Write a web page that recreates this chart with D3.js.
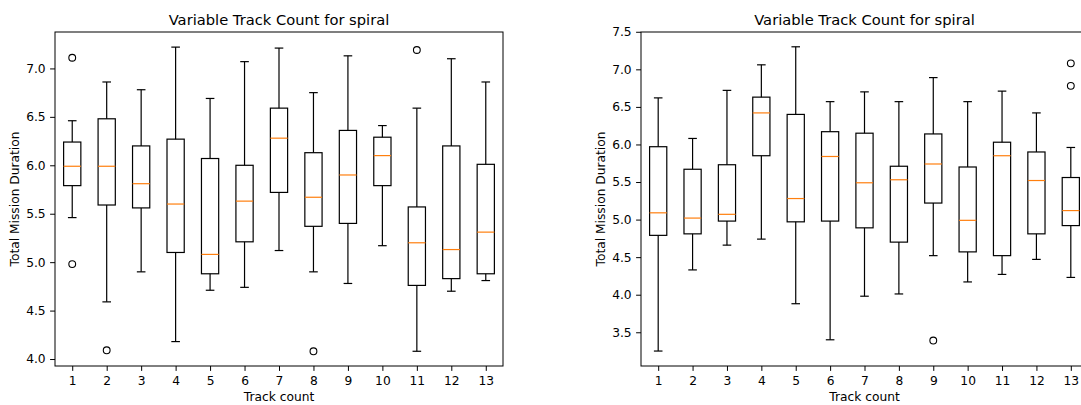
<!DOCTYPE html>
<html>
<head>
<meta charset="utf-8">
<script src="https://cdn.jsdelivr.net/npm/d3@7"></script>
<style>
	body { margin: 0; background: #fff; }
	text { font-family: "DejaVu Sans", sans-serif; fill: #000; }
</style>
</head>
<body>
<svg id="chart" width="1081" height="405"></svg>
<script>

var categories = [1, 2, 3, 4, 5, 6, 7, 8, 9, 10, 11, 12, 13];

// left panel
var leftLow = [5.46, 4.59, 4.90, 4.18, 4.71, 4.74, 5.12, 4.90, 4.78, 5.17, 4.08, 4.70, 4.81];
var leftQ1 = [5.79, 5.59, 5.56, 5.10, 4.88, 5.21, 5.72, 5.37, 5.40, 5.79, 4.76, 4.83, 4.88];
var leftMedian = [5.99, 5.99, 5.81, 5.60, 5.08, 5.63, 6.28, 5.67, 5.90, 6.10, 5.20, 5.13, 5.31];
var leftQ3 = [6.24, 6.48, 6.20, 6.27, 6.07, 6.00, 6.59, 6.13, 6.36, 6.29, 5.57, 6.20, 6.01];
var leftHigh = [6.46, 6.86, 6.78, 7.22, 6.69, 7.07, 7.21, 6.75, 7.13, 6.41, 6.59, 7.10, 6.86];
var leftOutliers = [[1, 7.11], [1, 4.98], [2, 4.09], [8, 4.08], [11, 7.19]];
var leftTicks = [4.0, 4.5, 5.0, 5.5, 6.0, 6.5, 7.0];

// right panel
var rightLow = [3.25, 4.33, 4.66, 4.74, 3.88, 3.40, 3.98, 4.01, 4.52, 4.17, 4.27, 4.47, 4.23];
var rightQ1 = [4.79, 4.81, 4.98, 5.85, 4.97, 4.98, 4.89, 4.70, 5.22, 4.57, 4.52, 4.81, 4.92];
var rightMedian = [5.09, 5.02, 5.07, 6.42, 5.28, 5.84, 5.49, 5.53, 5.74, 4.99, 5.85, 5.52, 5.12];
var rightQ3 = [5.97, 5.67, 5.73, 6.63, 6.40, 6.17, 6.15, 5.71, 6.14, 5.70, 6.03, 5.90, 5.56];
var rightHigh = [6.62, 6.08, 6.72, 7.06, 7.30, 6.57, 6.70, 6.57, 6.89, 6.57, 6.71, 6.42, 5.96];
var rightOutliers = [[9, 3.39], [13, 7.08], [13, 6.78]];
var rightTicks = [3.5, 4.0, 4.5, 5.0, 5.5, 6.0, 6.5, 7.0, 7.5];

var titleText = "Variable Track Count for spiral";
var xLabel = "Track count";
var yLabel = "Total Mission Duration";

var svg = d3.select("#chart");

function drawPanel(opts) {
	var x = d3.scaleLinear().domain([0.5, 13.5]).range([opts.left, opts.right]);
	var y = d3.scaleLinear().domain(opts.yDomain).range([366, 32]);
	var boxW = x(1.25) - x(1);
	var capW = x(1.125) - x(1);

	var g = svg.append("g");

	var rows = categories.map(function(c, i) {
		return { c: c, low: opts.low[i], q1: opts.q1[i], med: opts.median[i], q3: opts.q3[i], high: opts.high[i] };
	});

	var box = g.selectAll(".box").data(rows).enter().append("g").classed("box", true);

	// whiskers
	box.append("line")
		.attr("x1", function(d) { return x(d.c); })
		.attr("x2", function(d) { return x(d.c); })
		.attr("y1", function(d) { return y(d.low); })
		.attr("y2", function(d) { return y(d.q1); });
	box.append("line")
		.attr("x1", function(d) { return x(d.c); })
		.attr("x2", function(d) { return x(d.c); })
		.attr("y1", function(d) { return y(d.q3); })
		.attr("y2", function(d) { return y(d.high); });
	// caps
	box.append("line")
		.attr("x1", function(d) { return x(d.c) - capW; })
		.attr("x2", function(d) { return x(d.c) + capW; })
		.attr("y1", function(d) { return y(d.low); })
		.attr("y2", function(d) { return y(d.low); });
	box.append("line")
		.attr("x1", function(d) { return x(d.c) - capW; })
		.attr("x2", function(d) { return x(d.c) + capW; })
		.attr("y1", function(d) { return y(d.high); })
		.attr("y2", function(d) { return y(d.high); });
	box.selectAll("line").attr("stroke", "#000").attr("stroke-width", 1.2);

	box.append("rect")
		.attr("x", function(d) { return x(d.c) - boxW; })
		.attr("width", boxW * 2)
		.attr("y", function(d) { return y(d.q3); })
		.attr("height", function(d) { return y(d.q1) - y(d.q3); })
		.attr("fill", "none")
		.attr("stroke", "#000")
		.attr("stroke-width", 1.2);

	box.append("line")
		.attr("x1", function(d) { return x(d.c) - boxW; })
		.attr("x2", function(d) { return x(d.c) + boxW; })
		.attr("y1", function(d) { return y(d.med); })
		.attr("y2", function(d) { return y(d.med); })
		.attr("stroke", "#ff7f0e")
		.attr("stroke-width", 1.2);

	g.selectAll(".flier").data(opts.outliers).enter().append("circle")
		.classed("flier", true)
		.attr("cx", function(d) { return x(d[0]); })
		.attr("cy", function(d) { return y(d[1]); })
		.attr("r", 3.4)
		.attr("fill", "none")
		.attr("stroke", "#000")
		.attr("stroke-width", 1.1);

	// axes
	var yAxis = g.append("g")
		.attr("transform", "translate(" + opts.left + ",0)")
		.call(d3.axisLeft(y).tickValues(opts.ticks).tickFormat(d3.format(".1f")).tickSize(4.9).tickSizeOuter(0).tickPadding(4.5));
	var xAxis = g.append("g")
		.attr("transform", "translate(0,366)")
		.call(d3.axisBottom(x).tickValues(categories).tickFormat(d3.format("d")).tickSize(4.9).tickSizeOuter(0).tickPadding(5.5));
	[yAxis, xAxis].forEach(function(a) {
		a.select(".domain").remove();
		a.selectAll("line").attr("stroke", "#000").attr("stroke-width", 1);
		a.selectAll("text").attr("font-size", "12.25px").attr("font-family", "DejaVu Sans").attr("fill", "#000");
	});

	// frame
	g.append("rect")
		.attr("x", opts.left)
		.attr("y", 32)
		.attr("width", opts.right - opts.left)
		.attr("height", 334)
		.attr("fill", "none")
		.attr("stroke", "#000")
		.attr("stroke-width", 1);

	var cx = (opts.left + opts.right) / 2;
	g.append("text")
		.attr("x", cx)
		.attr("y", 25)
		.attr("text-anchor", "middle")
		.attr("font-size", "14.7px")
		.text(titleText);
	g.append("text")
		.attr("x", cx)
		.attr("y", 401)
		.attr("text-anchor", "middle")
		.attr("font-size", "12.25px")
		.text(xLabel);
	g.append("text")
		.attr("transform", "translate(" + opts.yLabelX + ",199) rotate(-90)")
		.attr("text-anchor", "middle")
		.attr("font-size", "12.25px")
		.text(yLabel);
}

drawPanel({
	left: 55, right: 503, yDomain: [3.928, 7.376], yLabelX: 19,
	low: leftLow, q1: leftQ1, median: leftMedian, q3: leftQ3, high: leftHigh,
	outliers: leftOutliers, ticks: leftTicks
});

drawPanel({
	left: 641, right: 1088, yDomain: [3.051, 7.497], yLabelX: 605,
	low: rightLow, q1: rightQ1, median: rightMedian, q3: rightQ3, high: rightHigh,
	outliers: rightOutliers, ticks: rightTicks
});

</script>
</body>
</html>
